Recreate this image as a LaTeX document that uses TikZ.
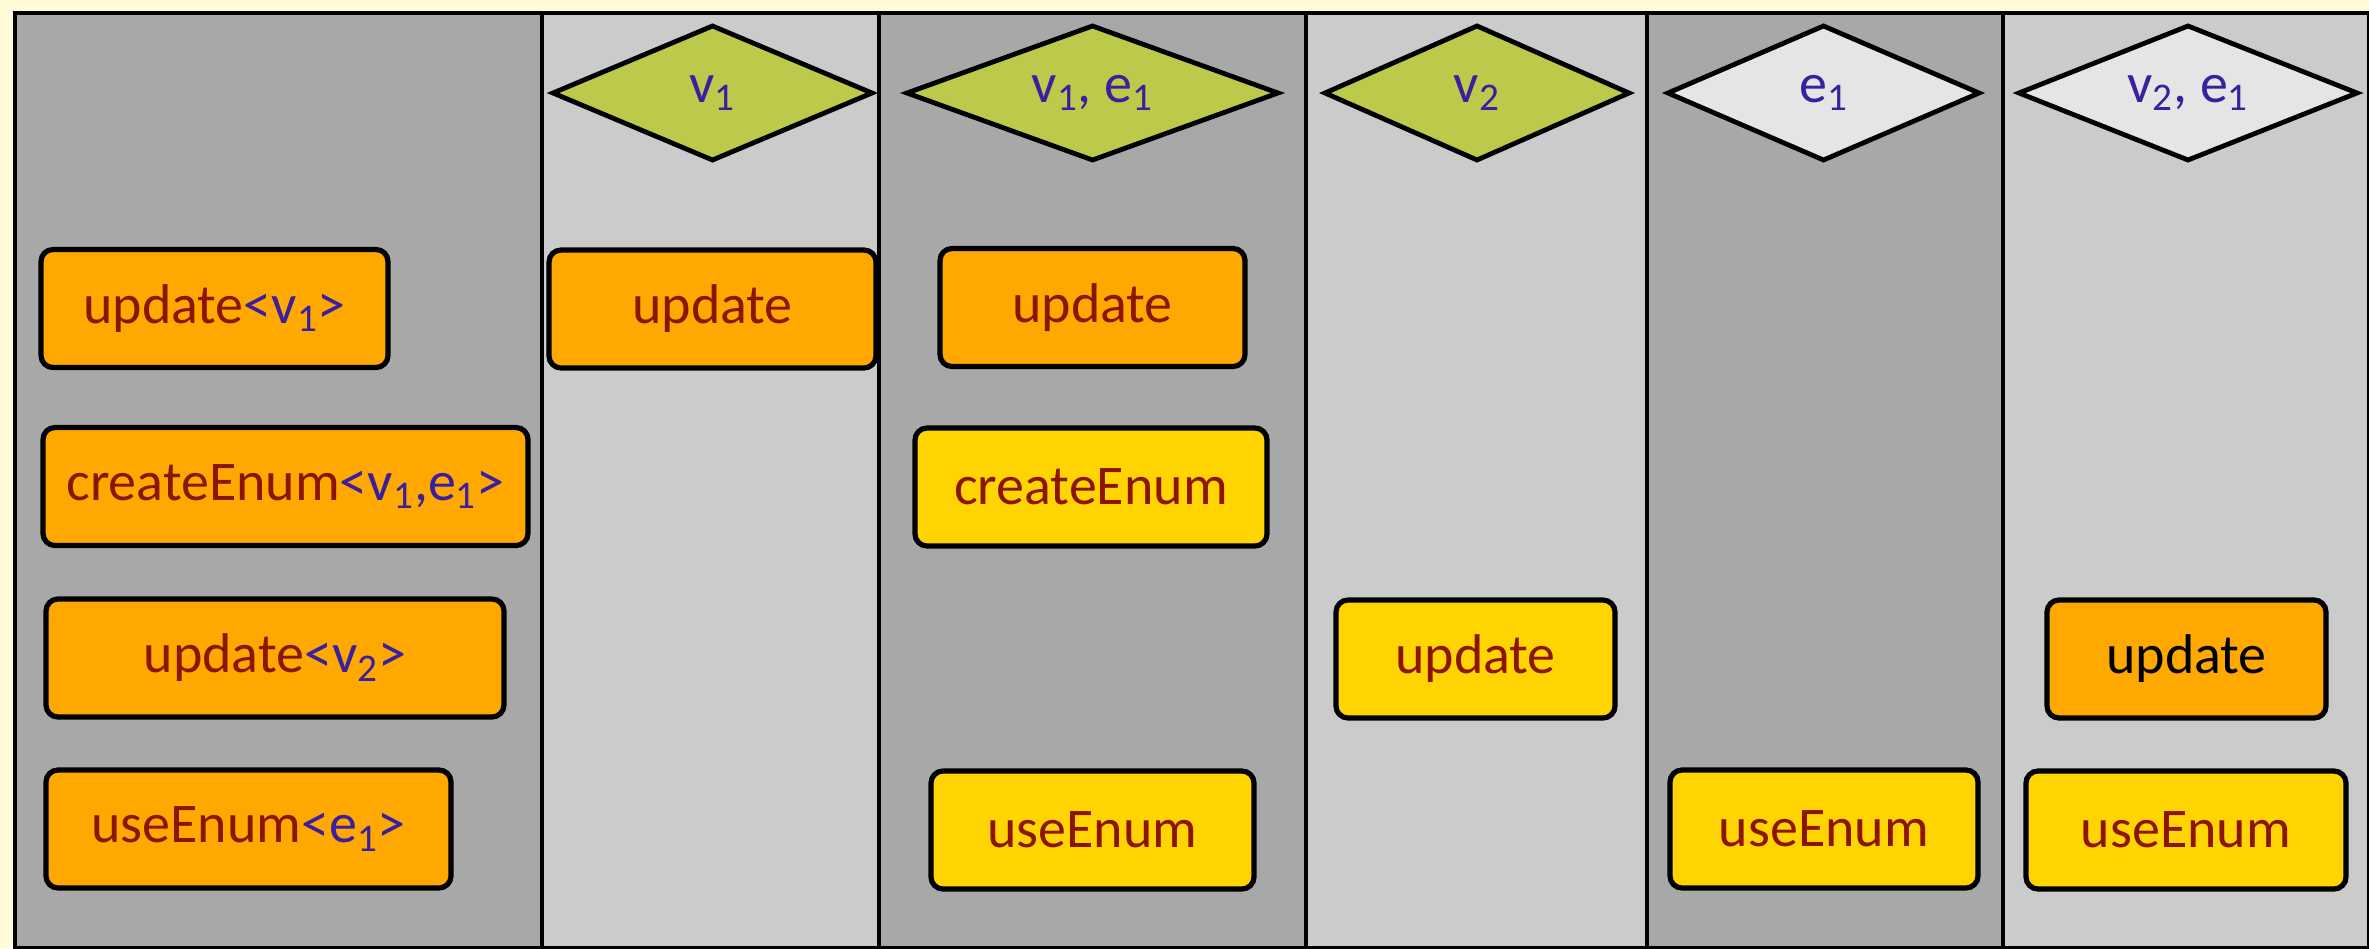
\documentclass[tikz,border=0pt]{standalone}
\usepackage{fontspec}
\setmainfont{Carlito}
\usetikzlibrary{shapes.geometric,positioning}

\definecolor{cream}{HTML}{FFFBD7}
\definecolor{laneDark}{HTML}{A8A8A8}
\definecolor{laneLight}{HTML}{CBCBCB}
\definecolor{opOrange}{HTML}{FFA800}
\definecolor{opYellow}{HTML}{FFD400}
\definecolor{guardGreen}{HTML}{BDC94A}
\definecolor{guardGrey}{HTML}{E5E5E5}
\definecolor{opRed}{HTML}{8B1500}
\definecolor{argBlue}{HTML}{3A1FA0}

\newcommand{\targ}[1]{\textcolor{argBlue}{#1}}

\begin{document}
\begin{tikzpicture}[
  x=0.5pt, y=-0.5pt, font=\fontsize{28}{31}\selectfont,
  lane/.style={draw=black, line width=2.2pt},
  opbox/.style={rounded corners=6pt, draw=black, line width=2.6pt, fill=opOrange,
                text=opRed, inner sep=0pt, minimum height=59pt},
  newop/.style={opbox, fill=opYellow},
  guard/.style={diamond, aspect=3.2, draw=black, line width=2.4pt, fill=guardGreen,
                text=argBlue, inner sep=0pt, minimum height=68pt},
  freeguard/.style={guard, fill=guardGrey},
]
\clip (0,0) rectangle (2369,948);
\fill[cream] (0,0) rectangle (2369,948);

% lanes
\foreach \xa/\xb/\shade in {15/542/laneDark, 542/879/laneLight, 879/1306/laneDark,
                            1306/1647/laneLight, 1647/2003/laneDark, 2003/2369/laneLight}
  \draw[lane, fill=\shade] (\xa,13) rectangle (\xb,948);

% guards
\node[guard, minimum width=160.5pt]     (g1) at (712.5,93)  {v\textsubscript{1}};
\node[guard, minimum width=186.5pt]     (g2) at (1092.5,93) {v\textsubscript{1}, e\textsubscript{1}};
\node[guard, minimum width=153pt]       (g3) at (1477,93)   {v\textsubscript{2}};
\node[freeguard, minimum width=156.5pt] (g4) at (1823.5,93) {e\textsubscript{1}};
\node[freeguard, minimum width=170pt]   (g5) at (2188,93)   {v\textsubscript{2}, e\textsubscript{1}};

% source column
\node[opbox, minimum width=173.5pt] (src1) at (214.5,308.5) {update\targ{<v\textsubscript{1}>}};
\node[opbox, minimum width=242.5pt] (src2) at (285.5,486.5) {createEnum\targ{<v\textsubscript{1},e\textsubscript{1}>}};
\node[opbox, minimum width=229pt]   (src3) at (275,658)     {update\targ{<v\textsubscript{2}>}};
\node[opbox, minimum width=202.5pt] (src4) at (248.5,829)   {useEnum\targ{<e\textsubscript{1}>}};

% specialised columns
\node[opbox, minimum width=163.5pt] (a1) at (712.5,309)  {update};
\node[opbox, minimum width=152.5pt] (b1) at (1092.5,307.5) {update};
\node[newop, minimum width=176pt]   (b2) at (1091,487)   {createEnum};
\node[newop, minimum width=161.5pt] (b3) at (1092.5,830) {useEnum};
\node[newop, minimum width=139.5pt] (c1) at (1475.5,659) {update};
\node[newop, minimum width=154pt]   (d1) at (1824,829)   {useEnum};
\node[opbox, minimum width=139.5pt, text=black] (e1) at (2186.5,659) {update};
\node[newop, minimum width=160pt]   (e2) at (2186,830)   {useEnum};
\end{tikzpicture}
\end{document}
